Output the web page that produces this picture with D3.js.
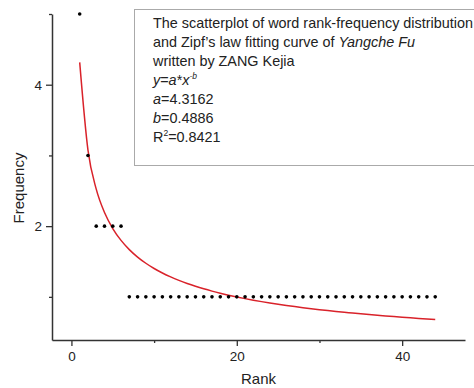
<!DOCTYPE html>
<html>
<head>
<meta charset="utf-8">
<script src="https://cdn.jsdelivr.net/npm/d3@7"></script>
<style>
  body { margin: 0; background: #fff; }
  svg { display: block; font-family: "Liberation Sans", Arial, sans-serif; }
</style>
</head>
<body>
<svg id="chart" width="474" height="388"></svg>
<script>
// word rank / frequency
const ranks = [1, 2, 3, 4, 5, 6, 7, 8, 9, 10, 11, 12, 13, 14, 15, 16, 17, 18, 19, 20, 21, 22,
  23, 24, 25, 26, 27, 28, 29, 30, 31, 32, 33, 34, 35, 36, 37, 38, 39, 40, 41, 42, 43, 44];
const freqs = [5, 3, 2, 2, 2, 2, 1, 1, 1, 1, 1, 1, 1, 1, 1, 1, 1, 1, 1, 1, 1, 1,
  1, 1, 1, 1, 1, 1, 1, 1, 1, 1, 1, 1, 1, 1, 1, 1, 1, 1, 1, 1, 1, 1];

// fit parameters (y = a * x^-b)
const fitA = 4.3162;
const fitB = 0.4886;
const fitR2 = "0.8421";

const xMajor = [0, 20, 40];
const xMinor = [10, 30];
const yMajor = [2, 4];
const yMinor = [1, 3, 5];

const svg = d3.select("#chart");
const axisColor = "#333";

const x = d3.scaleLinear().domain([-2.35, 47.6]).range([52, 465]);
const y = d3.scaleLinear().domain([0.39, 5]).range([340, 14]);

// box with caption
const box = svg.append("g");
box.append("rect")
  .attr("x", 134.5).attr("y", 9.5)
  .attr("width", 360).attr("height", 156)
  .attr("fill", "#fff").attr("stroke", "#aaa").attr("stroke-width", 1);

const tx = 153, fs = 14.4, lh = 19, firstY = 28;
const lines = box.append("text")
  .attr("font-size", fs).attr("fill", "#222");

function line(i) {
  return lines.append("tspan").attr("x", tx).attr("y", firstY + i * lh);
}
line(0).text("The scatterplot of word rank-frequency distribution");
const l1 = line(1);
l1.append("tspan").text("and Zipf\u2019s law fitting curve of ");
l1.append("tspan").attr("font-style", "italic").text("Yangche Fu");
line(2).text("written by ZANG Kejia");
const l3 = line(3);
l3.append("tspan").attr("font-style", "italic").text("y");
l3.append("tspan").text("=");
l3.append("tspan").attr("font-style", "italic").text("a");
l3.append("tspan").text("*");
l3.append("tspan").attr("font-style", "italic").text("x");
l3.append("tspan").attr("font-style", "italic").attr("font-size", 8.5).attr("dy", -6).text("-b");
const l4 = line(4);
l4.append("tspan").attr("font-style", "italic").text("a");
l4.append("tspan").text("=" + fitA);
const l5 = line(5);
l5.append("tspan").attr("font-style", "italic").text("b");
l5.append("tspan").text("=" + fitB);
const l6 = line(6);
l6.append("tspan").text("R");
l6.append("tspan").attr("font-size", 8.5).attr("dy", -6).text("2");
l6.append("tspan").attr("dy", 6).text("=" + fitR2);

// axes
function styleAxis(g) {
  g.selectAll(".domain").attr("stroke", axisColor).attr("stroke-width", 1.5);
  g.selectAll(".tick line").attr("stroke", axisColor).attr("stroke-width", 1.3);
  g.selectAll(".tick text").attr("fill", "#222").attr("font-size", 13.5)
    .attr("font-family", "Liberation Sans, Arial, sans-serif");
}

svg.append("g").attr("transform", "translate(0,340)")
  .call(d3.axisBottom(x).tickValues(xMinor).tickSize(3).tickFormat(""))
  .call(g => g.select(".domain").remove())
  .call(styleAxis);
svg.append("g").attr("transform", "translate(0,340)")
  .call(d3.axisBottom(x).tickValues(xMajor).tickSize(6).tickSizeOuter(0)
    .tickPadding(5).tickFormat(d3.format("d")))
  .call(styleAxis);

svg.append("g").attr("transform", "translate(52,0)")
  .call(d3.axisLeft(y).tickValues(yMinor).tickSize(3).tickFormat(""))
  .call(g => g.select(".domain").remove())
  .call(styleAxis);
svg.append("g").attr("transform", "translate(52,0)")
  .call(d3.axisLeft(y).tickValues(yMajor).tickSize(6).tickSizeOuter(0)
    .tickPadding(4).tickFormat(d3.format("d")))
  .call(styleAxis);

svg.append("text")
  .attr("x", (x.range()[0] + x.range()[1]) / 2).attr("y", 384)
  .attr("text-anchor", "middle").attr("font-size", 15).attr("fill", "#222")
  .text("Rank");
svg.append("text")
  .attr("transform", "translate(24,188) rotate(-90)")
  .attr("text-anchor", "middle").attr("font-size", 15).attr("fill", "#222")
  .text("Frequency");

// fitted curve
const fit = ranks.map(r => [r, fitA * Math.pow(r, -fitB)]);
svg.append("path")
  .attr("d", d3.line().x(d => x(d[0])).y(d => y(d[1])).curve(d3.curveMonotoneX)(fit))
  .attr("fill", "none").attr("stroke", "#d9222a").attr("stroke-width", 1.5);

// points
svg.append("g").selectAll("circle")
  .data(ranks)
  .join("circle")
  .attr("cx", (r, i) => x(r))
  .attr("cy", (r, i) => y(freqs[i]))
  .attr("r", 1.8)
  .attr("fill", "#000");
</script>
</body>
</html>
